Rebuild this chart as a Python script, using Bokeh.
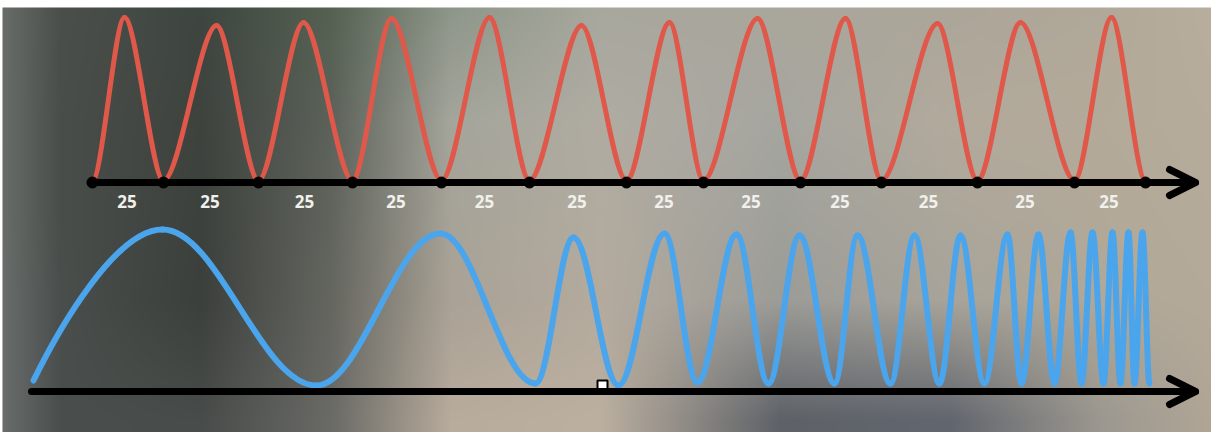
import numpy as np
from bokeh.plotting import figure
from bokeh.models import Range1d, Arrow, OpenHead, ColumnDataSource
from bokeh.core.properties import value
from bokeh.embed import file_html
from bokeh.resources import INLINE

# ---------------- data ----------------
# top (red) wave: points where it touches the axis, and its crests
red_trough_x = [92, 163, 258, 352, 441, 529, 626, 703, 800, 881, 977, 1074, 1145]
red_peak_x = [124, 216, 303, 391, 489, 581, 669, 757, 845, 937, 1020, 1111]
red_peak_h = [165, 157, 160, 164, 165, 157, 160, 164, 164, 159, 160, 165]
red_trough_h = 2
segment_labels = ["25"] * 12

# bottom (blue) wave: successive extremes (start, crest, trough, crest, ...)
blue_x = [33, 162, 316, 440, 535, 573, 618, 664, 697, 736, 768, 799, 834, 857,
          890, 914, 939, 960, 984, 1007, 1021, 1038, 1054, 1070, 1081, 1092,
          1103, 1112, 1120, 1128, 1134, 1142, 1149]
blue_h = [11, 162, 6, 158, 8, 154, 6, 158, 9, 157, 8, 156, 8, 156,
          8, 156, 8, 156, 8, 157, 8, 157, 8, 159, 8, 159,
          8, 159, 8, 159, 8, 159, 8]

marker_x = [602]
marker_h = [6]

# ---------------- layout / style ----------------
W, H = 1211, 432
Y0 = 391                # lower axis sits this far from the top
TOP_BASE = 209          # height of upper axis above lower axis
RED = "#e0584a"
BLUE = "#4ba5ec"

p = figure(width=W, height=H, output_backend="svg", toolbar_location=None,
           x_range=Range1d(0, W), y_range=Range1d(Y0 - H, Y0),
           x_axis_type=None, y_axis_type=None, min_border=0)
p.outline_line_color = None
p.background_fill_color = "white"
p.border_fill_color = "white"

# blurred photographic background (colour stops)
bg_x = [0, 60, 200, 330, 450, 600, 780, 950, 1100, 1211]
bg_y = [10, 120, 300, 420]
bg_rows = [
    ["#6a6e6a", "#4b4f4b", "#3e4640", "#556152", "#8e968a", "#a8a89e", "#aaa69c", "#aca69a", "#b0a898", "#b8ae9e"],
    ["#6a6e6a", "#4a4e4a", "#3e433e", "#5c625a", "#a4a59b", "#b0aca2", "#a6a6a0", "#b2aa9c", "#b4aa9a", "#b6ac9c"],
    ["#6a6e6c", "#4a4e4c", "#3c403c", "#656660", "#aaa296", "#b4ab9e", "#9c9c98", "#a8a49a", "#b0a898", "#b4aa9a"],
    ["#6a6e6c", "#4a4e4c", "#484c4a", "#6a6a66", "#b8ac9c", "#bcb0a0", "#5e6268", "#62666e", "#9c9890", "#b0a696"],
]


def hex_rgb(h):
    return [int(h[i:i + 2], 16) for i in (1, 3, 5)]


BX0, BY0 = 2, 7          # photo area starts here (page px)
BW, BH = W - BX0, H - BY0
xs_pix = BX0 + np.arange(BW) + 0.5
row_cols = np.zeros((len(bg_y), BW, 3))
for r, row in enumerate(bg_rows):
    rgb = np.array([hex_rgb(c) for c in row], dtype=float)
    for ch in range(3):
        row_cols[r, :, ch] = np.interp(xs_pix, bg_x, rgb[:, ch])
ys_pix = H - (np.arange(BH) + 0.5)
bgy = np.array(bg_y, dtype=float)
idx = np.clip(np.searchsorted(bgy, ys_pix) - 1, 0, len(bgy) - 2)
t = np.clip((ys_pix - bgy[idx]) / (bgy[idx + 1] - bgy[idx]), 0, 1)
img = row_cols[idx] * (1 - t)[:, None, None] + row_cols[idx + 1] * t[:, None, None]
rgba = np.zeros((BH, BW, 4), dtype=np.uint8)
rgba[..., :3] = np.clip(img, 0, 255).astype(np.uint8)
rgba[..., 3] = 255
p.image_rgba(image=[rgba.view(dtype=np.uint32).reshape(BH, BW)],
             x=BX0, y=Y0 - H, dw=BW, dh=BH)


def bezier_source(xs, ys, kinds, k):
    d = dict(x0=[], y0=[], x1=[], y1=[], cx0=[], cy0=[], cx1=[], cy1=[])
    for i in range(len(xs) - 1):
        x0, y0, x1, y1 = xs[i], ys[i], xs[i + 1], ys[i + 1]
        dx, dy = x1 - x0, y1 - y0
        a0 = k[kinds[i]]
        a1 = k[kinds[i + 1]]
        d["x0"].append(x0); d["y0"].append(y0)
        d["x1"].append(x1); d["y1"].append(y1)
        d["cx0"].append(x0 + a0[0] * dx); d["cy0"].append(y0 + a0[1] * dy)
        d["cx1"].append(x1 - a1[0] * dx); d["cy1"].append(y1 - a1[1] * dy)
    return ColumnDataSource(d)


# red wave
rx, ry, rk = [], [], []
for i, tx in enumerate(red_trough_x):
    rx.append(tx); ry.append(TOP_BASE + red_trough_h); rk.append("trough")
    if i < len(red_peak_x):
        rx.append(red_peak_x[i]); ry.append(TOP_BASE + red_peak_h[i]); rk.append("peak")
red_src = bezier_source(rx, ry, rk, {"trough": (0.3, 0.0), "peak": (0.3, 0.0)})
p.bezier(x0="x0", y0="y0", x1="x1", y1="y1", cx0="cx0", cy0="cy0", cx1="cx1", cy1="cy1",
         source=red_src, line_color=RED, line_width=5, line_cap="round")

# blue wave
bk = ["start"] + ["peak" if i % 2 == 1 else "trough" for i in range(1, len(blue_x))]
blue_src = bezier_source(blue_x, blue_h, bk,
                         {"start": (0.2, 0.35), "peak": (0.36, 0.0), "trough": (0.36, 0.0)})
p.bezier(x0="x0", y0="y0", x1="x1", y1="y1", cx0="cx0", cy0="cy0", cx1="cx1", cy1="cy1",
         source=blue_src, line_color=BLUE, line_width=6, line_cap="round")

# axes with arrow heads
for xs0, yb in ((90, TOP_BASE), (31, 0)):
    p.add_layout(Arrow(x_start=xs0, y_start=yb, x_end=1195, y_end=yb,
                       line_color="black", line_width=7, line_cap="round",
                       end=OpenHead(size=26, line_width=7, line_color="black",
                                    line_cap="round", line_join="round")))

# dots on the upper axis
p.scatter(x=red_trough_x, y=[TOP_BASE] * len(red_trough_x), size=11,
          fill_color="black", line_color="black")

# segment labels
lab_x = [(a + b) / 2 - 1 for a, b in zip(red_trough_x[:-1], red_trough_x[1:])]
p.text(x=lab_x, y=[TOP_BASE - 19] * len(lab_x), text=segment_labels,
       text_font=value("Open Sans"), text_font_size="17px", text_font_style="bold",
       text_color="#f0f0ec", text_align="center", text_baseline="middle")

# small square marker on the lower axis
p.scatter(x=marker_x, y=marker_h, marker="square", size=10,
          fill_color="white", line_color="black", line_width=2)

open("out.html", "w").write(file_html(p, INLINE))
